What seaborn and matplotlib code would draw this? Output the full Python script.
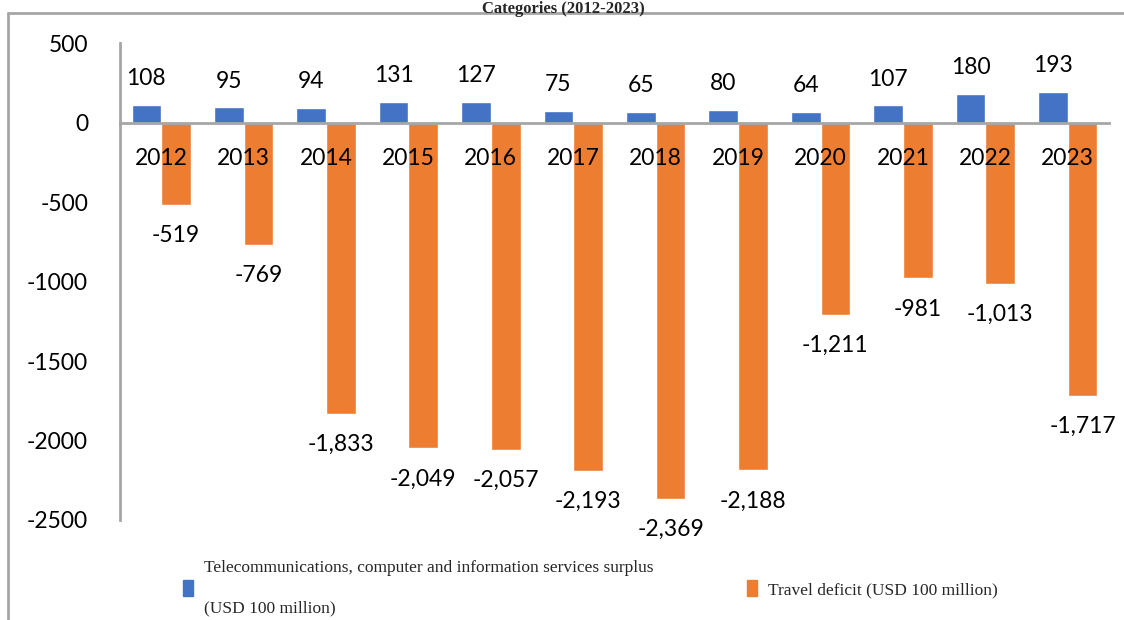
import matplotlib
matplotlib.use("Agg")
import matplotlib.pyplot as plt
from matplotlib.lines import Line2D
import seaborn as sns
import pandas as pd

years = ["2012", "2013", "2014", "2015", "2016", "2017", "2018", "2019", "2020", "2021", "2022", "2023"]
telecom_surplus = [108, 95, 94, 131, 127, 75, 65, 80, 64, 107, 180, 193]
travel_deficit = [-519, -769, -1833, -2049, -2057, -2193, -2369, -2188, -1211, -981, -1013, -1717]
series_names = ["Telecommunications, computer and information services surplus\n(USD 100 million)",
                "Travel deficit (USD 100 million)"]
yticks = [500, 0, -500, -1000, -1500, -2000, -2500]
title_text = "Categories (2012-2023)"

colors = ["#4472C4", "#ED7D31"]
axis_gray = "#A6A6A6"

df = pd.DataFrame({
    "year": years * 2,
    "value": telecom_surplus + travel_deficit,
    "series": [series_names[0]] * len(years) + [series_names[1]] * len(years),
})

sns.set_theme(style="white")
plt.rcParams["font.family"] = ["Lato", "DejaVu Sans"]

W, H = 1124, 620
fig = plt.figure(figsize=(W / 100, H / 100), dpi=100)
ax = fig.add_axes([120 / W, 1 - 520 / H, (1109 - 120) / W, (520 - 43) / H])

sns.barplot(data=df, x="year", y="value", hue="series", order=years, palette=colors,
            width=0.72, gap=0, saturation=1, ax=ax, legend=False, errorbar=None)

ax.set_axisbelow(False)
ax.set_ylim(-2500, 500)
ax.set_xlim(-0.5, len(years) - 0.5)
ax.set_xticks(range(len(years)))
ax.set_xticklabels(years)
ax.set_yticks(yticks)
ax.set_yticklabels([str(v) for v in yticks])
ax.set_xlabel("")
ax.set_ylabel("")

for s in ["top", "right"]:
    ax.spines[s].set_visible(False)
ax.spines["bottom"].set_position(("data", 0))
ax.spines["bottom"].set_color(axis_gray)
ax.spines["bottom"].set_linewidth(2)
ax.spines["left"].set_color(axis_gray)
ax.spines["left"].set_linewidth(2)
ax.spines["bottom"].set_zorder(5)

ax.tick_params(axis="x", length=0, pad=18.5, labelsize=16.5, colors="black")
ax.tick_params(axis="y", length=0, pad=23, labelsize=16.5, colors="black")
for lbl in ax.get_xticklabels():
    lbl.set_zorder(10)

# data labels
for bar, v in zip(ax.containers[0], telecom_surplus):
    ax.annotate(f"{v:,}", (bar.get_x() + bar.get_width() / 2, bar.get_height()),
                xytext=(0, 19), textcoords="offset points", ha="center", va="center",
                fontsize=16.5, color="black")
for bar, v in zip(ax.containers[1], travel_deficit):
    ax.annotate(f"{v:,}", (bar.get_x() + bar.get_width() / 2, bar.get_height()),
                xytext=(0, -22), textcoords="offset points", ha="center", va="center",
                fontsize=16.5, color="black")

# legend
handles = [plt.Rectangle((0, 0), 1, 1, color=c) for c in colors]
leg = fig.legend(handles, series_names, loc="center left",
                 bbox_to_anchor=(183 / W, 1 - 588 / H), ncol=2, frameon=False,
                 prop={"family": "Liberation Serif", "size": 12.5},
                 handlelength=0.55, handleheight=1.0, handletextpad=0.65,
                 columnspacing=5.4, borderpad=0, borderaxespad=0)
for t in leg.get_texts():
    t.set_linespacing(3.0)

# frame lines around figure
fig.add_artist(Line2D([8 / W, 1], [1 - 13 / H, 1 - 13 / H], transform=fig.transFigure,
                      color=axis_gray, linewidth=2))
fig.add_artist(Line2D([8 / W, 8 / W], [0, 1 - 13 / H], transform=fig.transFigure,
                      color=axis_gray, linewidth=2))

fig.text(563 / W, 1 - 1 / H, title_text, ha="center", va="top",
         fontsize=12, fontweight="bold", family="Liberation Serif")

fig.savefig("out.png", dpi=100, facecolor="white")
